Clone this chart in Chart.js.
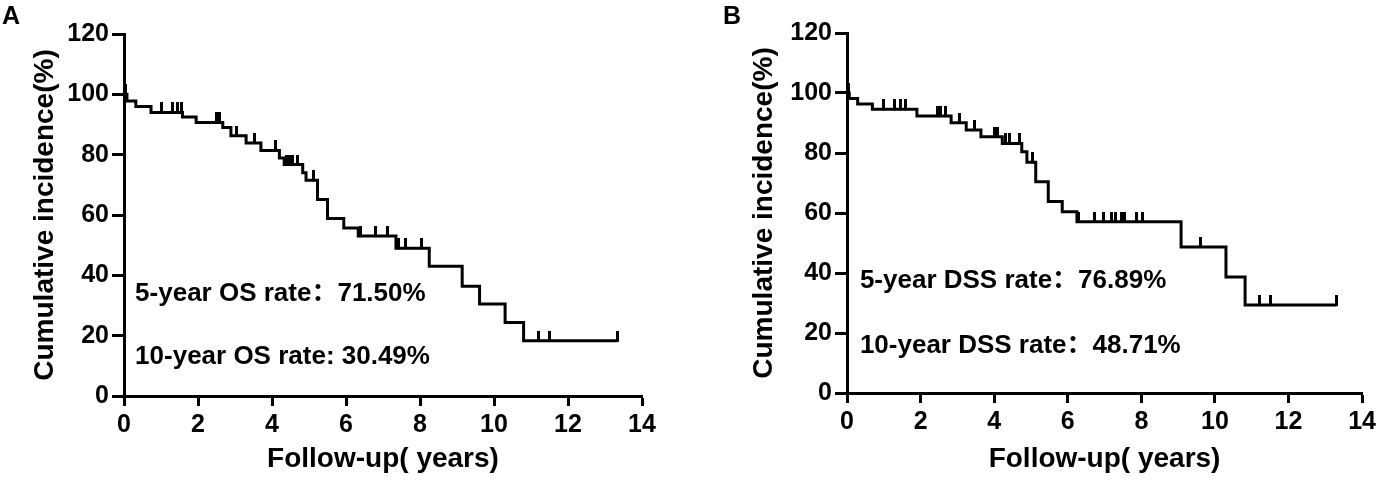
<!DOCTYPE html>
<html>
<head>
<meta charset="utf-8">
<script src="https://cdn.jsdelivr.net/npm/chart.js@4.4.1/dist/chart.umd.min.js"></script>
<style>
  html, body { margin: 0; padding: 0; background: #fff; }
  #wrap { position: relative; width: 1380px; height: 482px; }
  .panel { position: absolute; top: 0; width: 690px; height: 482px; }
</style>
</head>
<body>
<div id="wrap">
  <div class="panel" style="left:0"><canvas id="chartA" width="690" height="482"></canvas></div>
  <div class="panel" style="left:690px"><canvas id="chartB" width="690" height="482"></canvas></div>
</div>
<script>
// x ticks / y ticks
const xTicks = [0, 2, 4, 6, 8, 10, 12, 14];
const yTicks = [0, 20, 40, 60, 80, 100, 120];

// panel A - overall survival (step times in years, value after each step)
const osTimes = [0, 0.08, 0.32, 0.73, 1.58, 1.95, 2.67, 2.89, 3.3, 3.7, 4.2, 4.33, 4.83, 4.92, 5.23, 5.5, 5.94, 6.33, 7.35, 8.25, 9.14, 9.61, 10.3, 10.8, 13.34];
const osValues = [100, 97.8, 96.0, 94.0, 92.5, 90.7, 89.0, 86.3, 83.9, 81.4, 78.9, 76.7, 74.0, 71.5, 65.1, 58.8, 55.7, 53.0, 49.0, 43.0, 36.4, 30.5, 24.4, 18.3, 18.3];
const osCensored = [0.04, 1.0, 1.32, 1.45, 1.55, 2.5, 2.58, 3.05, 3.52, 4.1, 4.4, 4.47, 4.55, 4.7, 5.12, 6.38, 6.81, 7.13, 7.42, 7.6, 8.03, 11.2, 11.5, 13.34];
const osNotes = ["5-year OS rate\uFF1A71.50%", "10-year OS rate: 30.49%"];

// panel B - disease specific survival
const dssTimes = [0, 0.06, 0.29, 0.69, 1.9, 2.83, 3.24, 3.64, 4.22, 4.75, 4.89, 5.13, 5.47, 5.85, 6.25, 9.08, 10.3, 10.82, 13.3];
const dssValues = [100, 98.2, 96.3, 94.6, 92.3, 90.1, 87.7, 85.4, 83.2, 80.4, 76.9, 70.4, 63.8, 60.4, 57.1, 48.7, 38.7, 29.3, 29.3];
const dssCensored = [0.04, 1.0, 1.3, 1.45, 1.6, 2.45, 2.55, 2.68, 3.05, 3.46, 4.0, 4.08, 4.3, 4.42, 4.7, 5.05, 6.3, 6.72, 6.98, 7.2, 7.3, 7.45, 7.55, 7.86, 8.04, 9.6, 11.2, 11.5, 13.3];
const dssNotes = ["5-year DSS rate\uFF1A76.89%", "10-year DSS rate\uFF1A48.71%"];

const FONT = "'Liberation Sans', Arial, 'Noto Sans CJK SC', sans-serif";
Chart.defaults.font.family = FONT;
Chart.defaults.font.weight = "bold";
Chart.defaults.color = "#000";

// small vertical mark used for censored cases (sits on top of the curve)
function makeTick() {
    const c = document.createElement("canvas");
    c.width = 3;
    c.height = 20;
    const g = c.getContext("2d");
    g.fillStyle = "#000";
    g.fillRect(0, 0, 3, 11);
    return c;
}
const tickImg = makeTick();

function levelAt(times, values, t) {
    let v = values[0];
    for (let i = 0; i < times.length; i++) {
        if (times[i] <= t) v = values[i];
    }
    return v;
}

// text inside the plot + panel letter
const notesPlugin = {
    id: "notes",
    afterDraw(chart, args, opts) {
        const ctx = chart.ctx;
        const xs = chart.scales.x, ys = chart.scales.y;
        ctx.save();
        ctx.fillStyle = "#000";
        ctx.textBaseline = "middle";
        ctx.textAlign = "left";
        ctx.font = "bold 26px " + FONT;
        opts.lines.forEach((txt, i) => {
            ctx.fillText(txt, xs.getPixelForValue(opts.noteX), ys.getPixelForValue(opts.noteY[i]));
        });
        ctx.font = "bold 25px " + FONT;
        ctx.textBaseline = "top";
        ctx.fillText(opts.letter, opts.letterX, 5);
        ctx.restore();
    }
};

function makeChart(id, times, values, censored, cfg) {
    const curve = times.map((t, i) => ({ x: t, y: values[i] }));
    const marks = censored.map(t => ({ x: t, y: levelAt(times, values, t) }));

    return new Chart(document.getElementById(id), {
        type: "line",
        data: {
            datasets: [
                {
                    data: marks,
                    showLine: false,
                    pointStyle: tickImg,
                    pointRadius: 5,
                    borderColor: "#000"
                },
                {
                    data: curve,
                    stepped: true,
                    borderColor: "#000",
                    borderWidth: 3,
                    pointRadius: 0,
                    fill: false
                }
            ]
        },
        options: {
            responsive: false,
            animation: false,
            layout: { padding: { top: cfg.top, right: cfg.right, left: 0, bottom: 0 } },
            plugins: {
                legend: { display: false },
                tooltip: { enabled: false },
                notes: { lines: cfg.notes, noteX: cfg.noteX, noteY: cfg.noteY, letter: cfg.letter, letterX: cfg.letterX }
            },
            scales: {
                x: {
                    type: "linear",
                    min: 0,
                    max: 14,
                    afterBuildTicks: s => { s.ticks = xTicks.map(v => ({ value: v })); },
                    afterFit: s => { s.height = cfg.xHeight; },
                    grid: { drawOnChartArea: false, drawTicks: true, tickLength: 10, tickWidth: 3, tickColor: "#000" },
                    border: { display: true, color: "#000", width: 3 },
                    ticks: { font: { size: 25, weight: "bold" }, color: "#000", padding: 4, maxRotation: 0 },
                    title: { display: true, text: "Follow-up( years)", font: { size: 28, weight: "bold" }, color: "#000", padding: { top: 0, bottom: 6 } }
                },
                y: {
                    min: 0,
                    max: 120,
                    afterBuildTicks: s => { s.ticks = yTicks.map(v => ({ value: v })); },
                    afterFit: s => { s.width = cfg.yWidth; },
                    grid: { drawOnChartArea: false, drawTicks: true, tickLength: 12, tickWidth: 3, tickColor: "#000" },
                    border: { display: true, color: "#000", width: 3 },
                    ticks: { font: { size: 25, weight: "bold" }, color: "#000", padding: 3 },
                    title: { display: true, text: "Cumulative incidence(%)", font: { size: 28, weight: "bold" }, color: "#000", padding: { top: cfg.yTitlePad, bottom: 0 } }
                }
            }
        },
        plugins: [notesPlugin]
    });
}

makeChart("chartA", osTimes, osValues, osCensored, {
    top: 34, right: 48, xHeight: 86, yWidth: 124, yTitlePad: 28,
    notes: osNotes, noteX: 0.3, noteY: [33.8, 12.9], letter: "A", letterX: 2
});

makeChart("chartB", dssTimes, dssValues, dssCensored, {
    top: 33, right: 15, xHeight: 89, yWidth: 157, yTitlePad: 57,
    notes: dssNotes, noteX: 0.35, noteY: [37.3, 15.7], letter: "B", letterX: 33
});
</script>
</body>
</html>
